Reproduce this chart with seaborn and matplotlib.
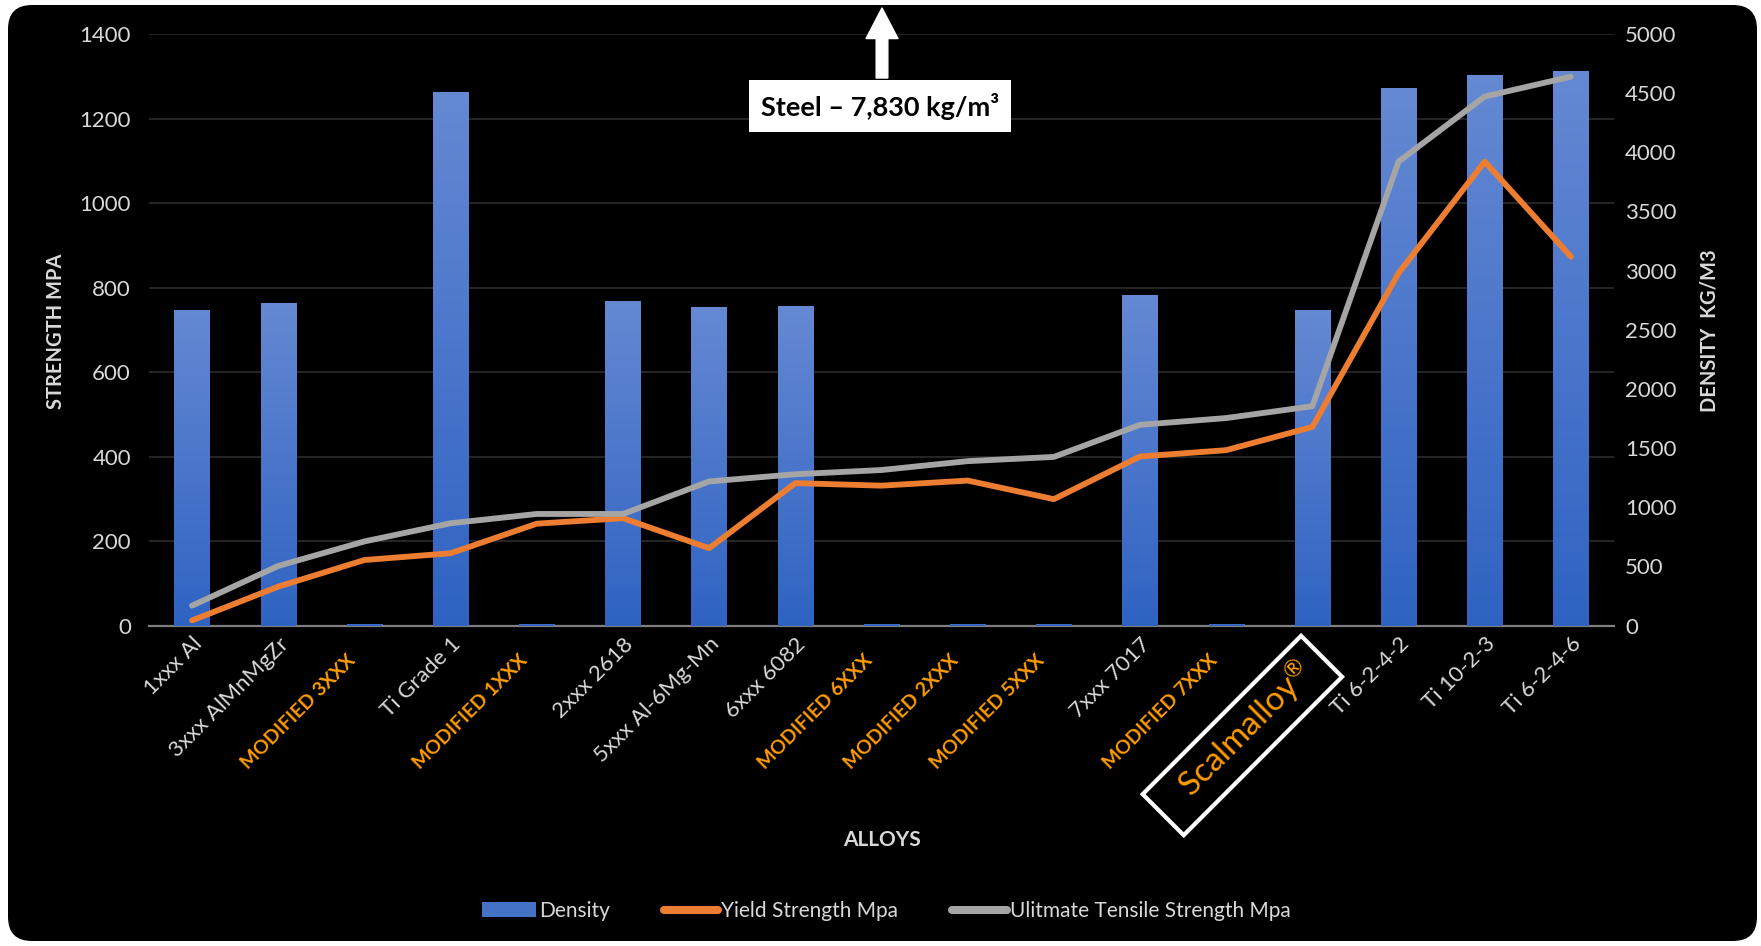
import numpy as np
import matplotlib
matplotlib.use("Agg")
import matplotlib.pyplot as plt
import matplotlib.transforms as mtransforms
from matplotlib.patches import FancyBboxPatch, FancyArrowPatch, Rectangle, Patch
from matplotlib.lines import Line2D
from matplotlib.colors import LinearSegmentedColormap
import seaborn as sns

# ---------------- data ----------------
categories = ["1xxx Al", "3xxx AlMnMgZr", "MODIFIED 3XXX", "Ti Grade 1", "MODIFIED 1XXX",
              "2xxx 2618", "5xxx Al-6Mg-Mn", "6xxx 6082", "MODIFIED 6XXX", "MODIFIED 2XXX",
              "MODIFIED 5XXX", "7xxx 7017", "MODIFIED 7XXX", "Scalmalloy®", "Ti 6-2-4-2",
              "Ti 10-2-3", "Ti 6-2-4-6"]
density = [2670, 2730, 12, 4510, 12, 2740, 2690, 2700, 12, 12, 12, 2790, 12, 2670, 4540, 4650, 4685]
yield_strength = [12, 92, 155, 171, 241, 254, 183, 337, 331, 343, 299, 400, 415, 470, 834, 1098, 873]
uts = [47, 141, 199, 242, 264, 264, 341, 358, 368, 389, 399, 475, 491, 519, 1098, 1252, 1299]
strength_ticks = [0, 200, 400, 600, 800, 1000, 1200, 1400]
density_ticks = [0, 500, 1000, 1500, 2000, 2500, 3000, 3500, 4000, 4500, 5000]
highlight = "Scalmalloy®"
steel_note = "Steel – 7,830 kg/m³"

# ---------------- style ----------------
plt.rcParams['font.family'] = ['Lato', 'DejaVu Sans']
plt.rcParams['mathtext.fontset'] = 'custom'
plt.rcParams['mathtext.rm'] = 'Lato'
plt.rcParams['mathtext.it'] = 'Lato'
plt.rcParams['mathtext.bf'] = 'Lato:bold'
TXT = '#D9D9D9'
ORANGE_TXT = '#FF9C00'
BAR_TOP = '#6589D3'
BAR_BOT = '#2F63C2'
C_YIELD = '#ED7D31'
C_UTS = '#A5A5A5'

W, H = 1761, 946
fig = plt.figure(figsize=(W / 100, H / 100), dpi=100)
fig.patch.set_facecolor('white')

bg = FancyBboxPatch((8, 5), 1749, 936, boxstyle="round,pad=0,rounding_size=24",
                    transform=mtransforms.IdentityTransform(), facecolor='black',
                    edgecolor='none', zorder=-10)
fig.add_artist(bg)

rect = [149 / W, 1 - 625.5 / H, (1614 - 149) / W, (625.5 - 34) / H]
ax = fig.add_axes(rect)
ax.set_facecolor('none')
ax2 = ax.twinx()
ax3 = ax.twinx()

n = len(categories)
xpos = np.arange(n)

# bars (density, right axis)
sns.barplot(x=categories, y=density, ax=ax2, color=BAR_BOT, width=0.41,
            saturation=1, legend=False)
cmap = LinearSegmentedColormap.from_list('g', [BAR_BOT, BAR_TOP])
grad = np.linspace(0, 1, 256).reshape(-1, 1)
for p in list(ax2.patches):
    x0 = p.get_x(); w = p.get_width(); h = p.get_height()
    if h <= 0:
        continue
    im = ax2.imshow(grad, extent=(x0, x0 + w, 0, h), origin='lower', aspect='auto',
                    cmap=cmap, zorder=p.get_zorder() + 0.1)
    im.set_clip_path(p)

# lines (strength)
sns.lineplot(x=xpos, y=yield_strength, ax=ax3, color=C_YIELD, linewidth=4.2, sort=False,
             legend=False)
sns.lineplot(x=xpos, y=uts, ax=ax3, color=C_UTS, linewidth=4.2, sort=False, legend=False)
for ln in ax3.lines:
    ln.set_solid_joinstyle('round')
    ln.set_solid_capstyle('round')

# limits
for a in (ax, ax2, ax3):
    a.set_xlim(-0.5, n - 0.5)
ax.set_ylim(0, 1400)
ax3.set_ylim(0, 1400)
ax2.set_ylim(0, 5000)

# grid on bottom axis
ax.set_yticks(strength_ticks)
ax.grid(axis='y', color='#282828', linewidth=1.3)
ax.grid(axis='x', visible=False)
ax2.grid(False)
ax3.grid(False)
ax2.set_yticks(density_ticks)

for a in (ax, ax2, ax3):
    for s in a.spines.values():
        s.set_visible(False)
    a.set_xlabel('')
    a.set_ylabel('')
ax.spines['bottom'].set_visible(True)
ax.spines['bottom'].set_color('#7F7F7F')
ax.spines['bottom'].set_linewidth(1.6)
ax3.yaxis.set_visible(False)
ax3.patch.set_visible(False)
ax2.patch.set_visible(False)

ax.tick_params(axis='y', length=0, labelsize=16, labelcolor=TXT, pad=13)
ax2.tick_params(axis='y', length=0, labelsize=16, labelcolor=TXT, pad=8)

# x tick labels
ax.set_xticks(xpos)
ax.set_xticklabels([c if c != highlight else '' for c in categories])
ax.tick_params(axis='x', length=0, pad=6)
for lab, c in zip(ax.get_xticklabels(), categories):
    lab.set_rotation(45)
    lab.set_ha('right')
    lab.set_va('top')
    lab.set_rotation_mode('anchor')
    if c.startswith('MODIFIED'):
        lab.set_color(ORANGE_TXT)
        lab.set_fontweight('bold')
        lab.set_fontsize(14)
    else:
        lab.set_color(TXT)
        lab.set_fontsize(16)

# highlighted label with rotated frame
hi = categories.index(highlight)
blend = mtransforms.blended_transform_factory(ax.transData, ax.transAxes)
anchor = mtransforms.ScaledTranslation(hi, 0, blend)
hl_text = highlight.replace('®', r'$^{\mathrm{®}}$')
ax.text(0, 0, hl_text, transform=mtransforms.Affine2D().translate(-66, -104) + anchor,
        rotation=45, rotation_mode='anchor', ha='center', va='center',
        fontsize=24, color=ORANGE_TXT, clip_on=False)
frame = Rectangle((-112, -29), 224, 58, facecolor='none', edgecolor='white', linewidth=3,
                  transform=mtransforms.Affine2D().rotate_deg(45).translate(-70, -110) + anchor)
fig.add_artist(frame)

# axis titles
fig.text(56 / W, 1 - 331 / H, 'STRENGTH MPA', rotation=90, ha='center', va='center',
         fontsize=14.5, fontweight='bold', color=TXT)
fig.text(1709 / W, 1 - 331 / H, 'DENSITY  KG/M3', rotation=90, ha='center', va='center',
         fontsize=14.5, fontweight='bold', color=TXT)
fig.text(882 / W, 1 - 840 / H, 'ALLOYS', ha='center', va='center',
         fontsize=15, fontweight='bold', color=TXT)

# steel annotation
arrow = FancyArrowPatch((882, H - 78), (882, H - 8),
                        arrowstyle='simple,head_length=1.1,head_width=1.15,tail_width=0.42',
                        mutation_scale=20, color='white', shrinkA=0, shrinkB=0,
                        transform=mtransforms.IdentityTransform())
fig.add_artist(arrow)
fig.text(880 / W, 1 - 106 / H, steel_note, ha='center', va='center', fontsize=19.5,
         fontweight='bold', color='black',
         bbox=dict(boxstyle='square,pad=0.45', facecolor='white', edgecolor='none'))

# legend
handles = [Patch(facecolor='#4472C4', edgecolor='none'),
           Line2D([], [], color=C_YIELD, linewidth=5.8, solid_capstyle='round'),
           Line2D([], [], color=C_UTS, linewidth=5.8, solid_capstyle='round')]
labels = ['Density', 'Yield Strength Mpa', 'Ulitmate Tensile Strength Mpa']
leg = fig.legend(handles, labels, loc='center', bbox_to_anchor=(886 / W, 1 - 911 / H),
                 ncol=3, frameon=False, fontsize=15, handlelength=2.6, handletextpad=0.15,
                 columnspacing=2.6, labelcolor=TXT)

# shift the MODIFIED labels slightly down-left, as in the original layout
for lab, c in zip(ax.get_xticklabels(), categories):
    if c.startswith('MODIFIED'):
        lab.set_transform(lab.get_transform() + mtransforms.Affine2D().translate(-18, -18))

fig.savefig('out.png', dpi=100, facecolor=fig.get_facecolor())
